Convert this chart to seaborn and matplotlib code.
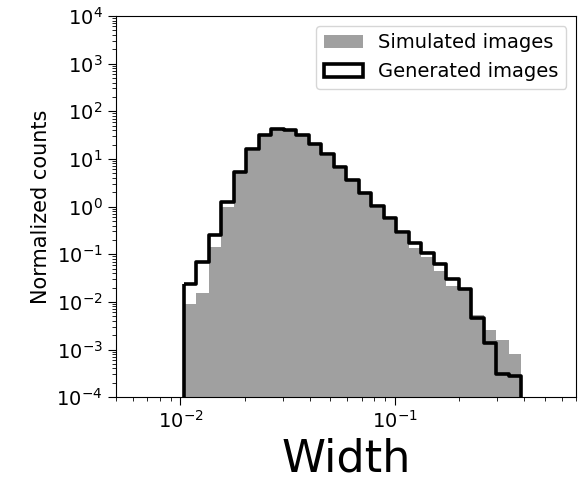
import numpy as np
import pandas as pd
import matplotlib
matplotlib.use("Agg")
import matplotlib.pyplot as plt
import matplotlib.ticker as mticker
import seaborn as sns

# log-spaced bin edges (27 bins between ~0.0104 and ~0.387)
bin_lo = 0.01038
bin_hi = 0.3874
n_bins = 27

# normalized counts per bin
simulated = [0.0092, 0.0154, 0.142, 0.957, 5.03, 14.9, 30.1, 40.3, 40.3,
             30.1, 19.5, 11.5, 6.25, 3.42, 1.82, 0.95, 0.518, 0.263, 0.138,
             0.0877, 0.0446, 0.022, 0.0175, 0.0054, 0.00253, 0.00156, 0.00082]
generated = [0.0242, 0.067, 0.251, 1.26, 5.36, 15.8, 31.2, 41.7, 40.6,
             31.6, 20.5, 12.4, 6.63, 3.59, 1.94, 1.03, 0.562, 0.290, 0.168,
             0.106, 0.0608, 0.0308, 0.0190, 0.00468, 0.0014, 0.000312, 0.000277]

edges = np.logspace(np.log10(bin_lo), np.log10(bin_hi), n_bins + 1)
centers = np.sqrt(edges[:-1] * edges[1:])
df = pd.DataFrame({"width": centers, "sim": simulated, "gen": generated})

fig = plt.figure(figsize=(5.82, 4.82), dpi=100)
ax = fig.add_axes([0.199, 0.176, 0.791, 0.791])

# bins as a plain list (seaborn compares bins to "auto")
sns.histplot(data=df, x="width", weights="sim", bins=list(edges), stat="count",
             element="step", fill=True, color="#a0a0a0", edgecolor="none",
             linewidth=0, alpha=1, label="Simulated images", ax=ax)
sns.histplot(data=df, x="width", weights="gen", bins=list(edges), stat="count",
             element="step", fill=True, color="black", facecolor="none",
             edgecolor="black", linewidth=2.6, label="Generated images", ax=ax)

ax.set_xscale("log")
ax.set_yscale("log")
ax.set_xlim(0.005, 0.70)
ax.set_ylim(1e-4, 1e4)

# every decade labelled, 2..9 minor ticks in each decade
decades = range(-4, 4)
ax.yaxis.set_major_locator(mticker.FixedLocator([10.0 ** k for k in range(-4, 5)]))
ax.yaxis.set_major_formatter(mticker.LogFormatterSciNotation())
ax.yaxis.set_minor_locator(mticker.FixedLocator([s * 10.0 ** k for k in decades for s in range(2, 10)]))
ax.yaxis.set_minor_formatter(mticker.NullFormatter())

ax.set_xlabel("Width", fontsize=32)
ax.set_ylabel("Normalized counts", fontsize=15)
ax.tick_params(axis="both", which="major", labelsize=14, length=6)
ax.tick_params(axis="both", which="minor", length=3)

ax.legend(loc="upper right", fontsize=14)

plt.savefig("out.png", dpi=100)
